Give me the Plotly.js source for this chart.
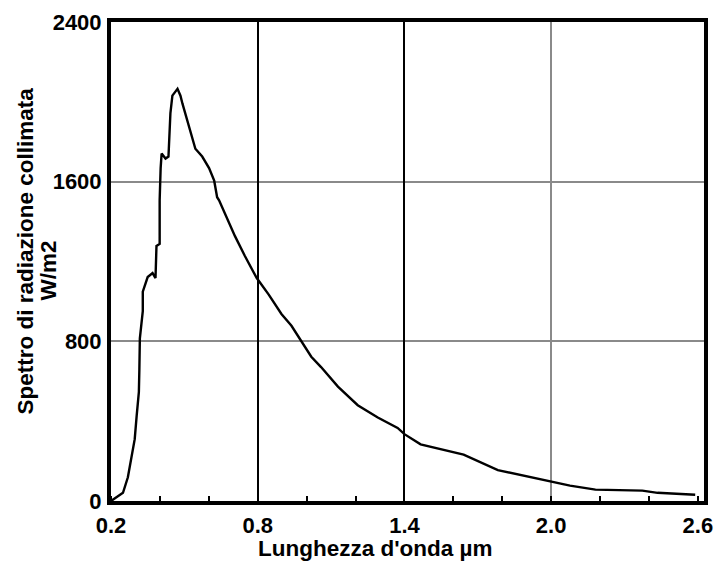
<!DOCTYPE html>
<html>
<head>
<meta charset="utf-8">
<script src="https://cdn.plot.ly/plotly-3.0.1.min.js"></script>
<style>html,body{margin:0;padding:0;background:#fff;}#chart{width:723px;height:568px;}</style>
</head>
<body>
<div id="chart"></div>
<script>
// Wavelength (µm)
const wavelength = [0.200, 0.220, 0.249, 0.269, 0.281, 0.297, 0.305, 0.314, 0.316, 0.318, 0.330, 0.330, 0.350, 0.370, 0.382, 0.386, 0.399, 0.399, 0.403, 0.407, 0.423, 0.435, 0.443, 0.451, 0.472, 0.484, 0.492, 0.520, 0.545, 0.573, 0.601, 0.622, 0.634, 0.642, 0.666, 0.707, 0.747, 0.796, 0.845, 0.897, 0.938, 0.978, 1.019, 1.059, 1.128, 1.209, 1.291, 1.372, 1.400, 1.466, 1.642, 1.782, 1.918, 2.000, 2.077, 2.181, 2.373, 2.435, 2.589];
// Collimated radiation spectrum (W/m2)
const irradiance = [0, 15, 41, 119, 206, 310, 428, 547, 660, 815, 951, 1049, 1122, 1142, 1117, 1278, 1288, 1507, 1668, 1741, 1716, 1726, 1944, 2031, 2065, 2031, 1992, 1876, 1765, 1726, 1668, 1605, 1522, 1507, 1439, 1327, 1229, 1117, 1034, 937, 878, 800, 723, 671, 573, 480, 418, 366, 335, 284, 232, 155, 119, 98, 77, 57, 52, 41, 31];

const xTickVals = [0.2, 0.8, 1.4, 2.0, 2.6];
const xTickText = ['0.2', '0.8', '1.4', '2.0', '2.6'];
const xDarkGrid = [0.8, 1.4];
const xLightGrid = [2.0];
const yTickVals = [0, 800, 1600, 2400];
const yTickText = ['0', '800', '1600', '2400'];

const xTitle = "Lunghezza d'onda µm";
const yTitle1 = 'Spettro di radiazione collimata';
const yTitle2 = 'W/m2';

const FONT = '"Liberation Sans", Arial, sans-serif';
const xRange = [0.2, 2.625];

const traces = [
  {x: wavelength, y: irradiance, type: 'scatter', mode: 'lines',
   line: {color: '#000', width: 2.4}, hoverinfo: 'skip', xaxis: 'x', yaxis: 'y'},
  {x: [null], y: [null], type: 'scatter', mode: 'lines', xaxis: 'x2', yaxis: 'y', showlegend: false},
  {x: [null], y: [null], type: 'scatter', mode: 'lines', xaxis: 'x3', yaxis: 'y', showlegend: false}
];

const layout = {
  width: 723, height: 568,
  margin: {l: 110.5, r: 19, t: 21.5, b: 66.5},
  paper_bgcolor: '#fff', plot_bgcolor: '#fff',
  showlegend: false,
  font: {family: FONT, color: '#000', size: 22, weight: 'bold'},
  xaxis: {
    range: xRange, tickmode: 'array', tickvals: xTickVals, ticktext: xTickText,
    ticks: '', showgrid: false, zeroline: false,
    showline: true, linecolor: '#000', linewidth: 4, mirror: true,
    tickfont: {family: FONT, size: 22, color: '#000', weight: 'bold'},
    ticklabelstandoff: 2,
    minor: {ticks: 'inside', tick0: 0.2, dtick: 0.2, ticklen: 5, tickwidth: 2, tickcolor: '#000', showgrid: false}
  },
  xaxis2: {
    overlaying: 'x', anchor: 'y', range: xRange, tickmode: 'array', tickvals: xDarkGrid,
    showticklabels: false, ticks: '', showgrid: true, gridcolor: '#000', gridwidth: 2,
    zeroline: false, showline: false
  },
  xaxis3: {
    overlaying: 'x', anchor: 'y', range: xRange, tickmode: 'array', tickvals: xLightGrid,
    showticklabels: false, ticks: '', showgrid: true, gridcolor: '#8a8a8a', gridwidth: 2,
    zeroline: false, showline: false
  },
  yaxis: {
    range: [0, 2400], tickmode: 'array', tickvals: yTickVals, ticktext: yTickText,
    ticks: '', showgrid: true, gridcolor: '#8a8a8a', gridwidth: 2, zeroline: false,
    showline: true, linecolor: '#000', linewidth: 4, mirror: true,
    tickfont: {family: FONT, size: 22, color: '#000', weight: 'bold'},
    ticklabelstandoff: 1
  },
  annotations: [
    {text: xTitle, xref: 'paper', yref: 'paper', x: (375 - 110.5) / 593.5, y: -(549 - 501.5) / 480,
     xanchor: 'center', yanchor: 'middle', showarrow: false,
     font: {family: FONT, size: 22.5, color: '#000', weight: 'bold'}},
    {text: yTitle1, xref: 'paper', yref: 'paper', x: (24 - 110.5) / 593.5, y: (501.5 - 251) / 480,
     xanchor: 'center', yanchor: 'middle', textangle: -90, showarrow: false,
     font: {family: FONT, size: 22.5, color: '#000', weight: 'bold'}},
    {text: yTitle2, xref: 'paper', yref: 'paper', x: (48 - 110.5) / 593.5, y: (501.5 - 271) / 480,
     xanchor: 'center', yanchor: 'middle', textangle: -90, showarrow: false,
     font: {family: FONT, size: 22.5, color: '#000', weight: 'bold'}}
  ]
};

Plotly.newPlot('chart', traces, layout, {staticPlot: true, displayModeBar: false});
</script>
</body>
</html>
